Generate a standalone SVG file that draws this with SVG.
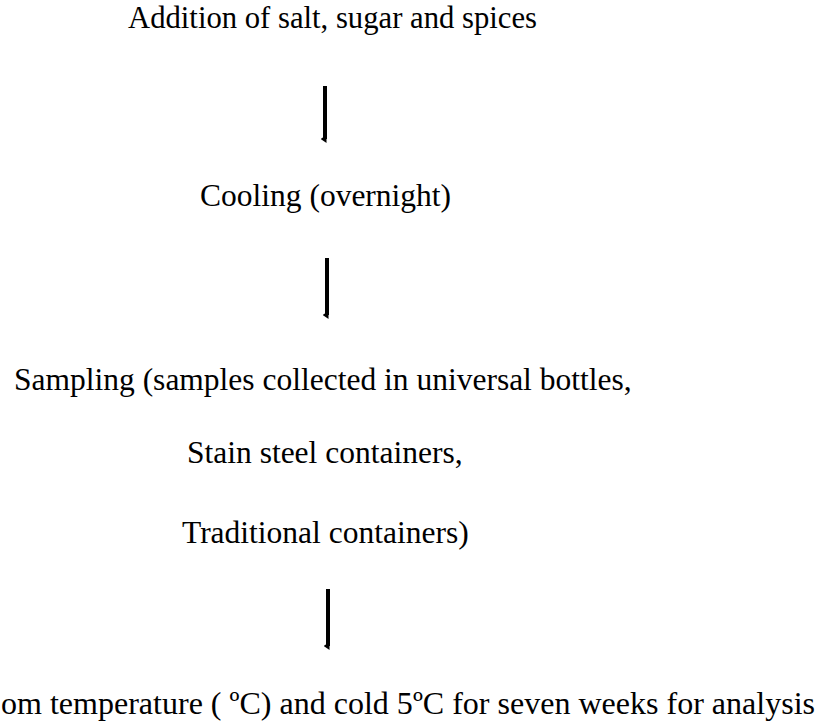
<svg xmlns="http://www.w3.org/2000/svg" width="822" height="723" viewBox="0 0 822 723">
<style>
  text { font-family: "Liberation Serif", "Times New Roman", serif; font-size: 31.5px; fill: #000; }
  .arrow { stroke: #000; stroke-width: 4; fill: none; marker-end: url(#tip); }
</style>
<defs>
  <marker id="tip" viewBox="0 0 8 6" refX="4" refY="1.5" markerWidth="2" markerHeight="1.5" orient="auto" markerUnits="strokeWidth">
    <path d="M0,0 L8,0 L4,6 Z" fill="#000"/>
  </marker>
</defs>
<rect width="822" height="723" fill="#fff"/>
<g id="n1"><text x="128" y="28" style="font-size:30.5px" textLength="409" lengthAdjust="spacingAndGlyphs">Addition of salt, sugar and spices</text></g>
<g id="n2"><text x="200" y="206">Cooling (overnight)</text></g>
<g id="n3">
  <text x="14" y="390">Sampling (samples collected in universal bottles,</text>
  <text x="187" y="463">Stain steel containers,</text>
  <text x="182" y="543">Traditional containers)</text>
</g>
<g id="n4"><text x="1" y="714" textLength="814" lengthAdjust="spacingAndGlyphs">om temperature ( ºC) and cold 5ºC for seven weeks for analysis</text></g>
<g id="connectors">
  <line class="arrow" x1="325" y1="86" x2="325" y2="139"/>
  <line class="arrow" x1="327" y1="258" x2="327" y2="315"/>
  <line class="arrow" x1="328" y1="589" x2="328" y2="646"/>
</g>
</svg>
